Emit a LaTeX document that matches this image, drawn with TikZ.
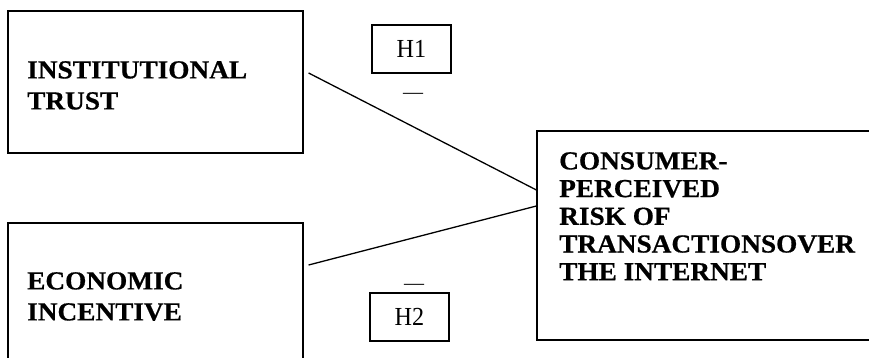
\documentclass[tikz,border=0pt]{standalone}
\usepackage{fontspec}
\setmainfont{Liberation Serif}
\newfontfamily\widebold{Liberation Serif}[FakeStretch=1.05,FakeBold=0.6]
\newfontfamily\hfont{Liberation Serif}[FakeStretch=0.93]
\usetikzlibrary{calc}
\tikzset{
  box/.style={draw=black, line width=1.2pt, rectangle, inner sep=0pt},
  hbox/.style={draw=black, line width=1.2pt, rectangle, inner sep=0pt, minimum width=79pt, minimum height=48pt, font=\hfont\fontsize{26}{30}\selectfont},
  btext/.style={inner sep=0pt, align=left, anchor=north west},
  dashlbl/.style={inner sep=0pt, font=\fontsize{20}{24}\selectfont, anchor=base},
  link/.style={draw=black, line width=1.3pt}
}
\begin{document}
\begin{tikzpicture}[x=1pt,y=1pt]
\useasboundingbox (0,0) rectangle (869,358);
\clip (0,0) rectangle (869,358);
% main boxes
\node[box, minimum width=295pt, minimum height=142pt] (b1) at (155.5,276) {};
\node[box, minimum width=295pt, minimum height=160pt] (b2) at (155.5,55) {};
\node[box, minimum width=343pt, minimum height=209pt] (b3) at (708.5,122.5) {};
% texts
\node[btext, font=\widebold\bfseries\fontsize{26}{31}\selectfont] (t1) at (27,297) {INSTITUTIONAL\\TRUST};
\node[btext, font=\widebold\bfseries\fontsize{26}{31}\selectfont] (t2) at (27,86) {ECONOMIC\\INCENTIVE};
\node[btext, font=\widebold\bfseries\fontsize{26}{27.7}\selectfont] (t3) at (559,206) {CONSUMER-\\PERCEIVED\\RISK OF\\TRANSACTIONSOVER\\THE INTERNET};
% hypothesis boxes
\node[hbox] (h1) at (411.5,309) {H1};
\node[hbox] (h2) at (409.5,41) {H2};
\node[dashlbl] (d1) at (413,259) {—};
\node[dashlbl] (d2) at (414,68) {—};
% connectors
\coordinate (s1) at ($(b1.east)+(5,9)$);
\coordinate (s2) at ($(b2.east)+(5,38)$);
\coordinate (e1) at ($(b3.west)+(0,45.5)$);
\coordinate (e2) at ($(b3.west)+(0,29.5)$);
\draw[link] (s1) -- (e1);
\draw[link] (s2) -- (e2);
\end{tikzpicture}
\end{document}
